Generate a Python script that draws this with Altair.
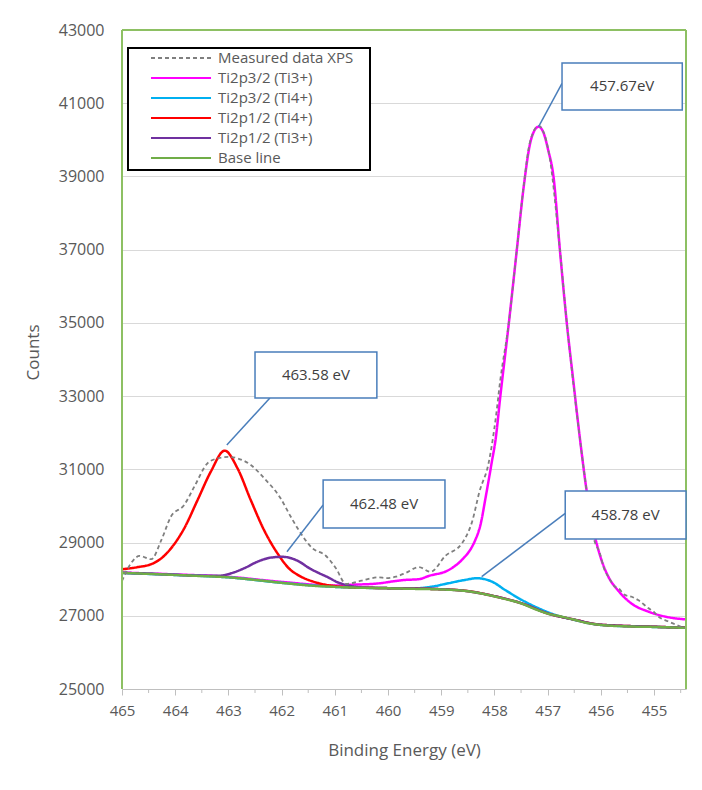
import altair as alt
import pandas as pd

# ---- Ti 2p XPS spectrum: binding energy (eV) and counts per trace ----
meas_E = [465.0, 464.83, 464.67, 464.45, 464.26, 464.08, 463.83, 463.64, 463.39, 463.2,
          463.0, 462.83, 462.58, 462.33, 462.02, 461.83, 461.7, 461.42, 461.17, 460.98,
          460.79, 460.5, 460.17, 460.04, 459.85, 459.67, 459.42, 459.2, 458.92, 458.61,
          458.42, 458.28, 458.11, 457.98, 457.89, 457.73, 457.58, 457.45, 457.33, 457.17,
          456.99, 456.77, 456.64, 456.49, 456.27, 456.14, 456.02, 455.93, 455.86, 455.74,
          455.67, 455.55, 455.42, 455.3, 455.11, 455.0, 454.93, 454.74, 454.49, 454.4]
meas_C = [27950, 28435, 28635, 28545, 29070, 29710, 30030, 30530, 31170, 31300,
          31340, 31300, 31120, 30760, 30210, 29710, 29390, 28845, 28640, 28300,
          27870, 27960, 28050, 28030, 28070, 28170, 28330, 28200, 28640, 28980,
          29570, 30400, 31170, 32350, 33440, 35000, 37000, 38750, 39950, 40380,
          39750, 37000, 35000, 33000, 30450, 29160, 28710, 28250, 28070, 27800,
          27750, 27570, 27520, 27430, 27210, 27100, 26990, 26850, 26700, 26660]

ti3_p32_E = [465.0, 464.0, 463.0, 462.0, 461.0, 460.67, 460.29, 459.67, 459.42, 459.23,
             458.86, 458.61, 458.42, 458.36, 458.26, 458.17, 458.05, 457.98, 457.89, 457.73,
             457.58, 457.45, 457.33, 457.25, 457.17, 457.08, 456.99, 456.89, 456.77, 456.64,
             456.52, 456.39, 456.27, 456.11, 455.99, 455.86, 455.67, 455.42, 455.11, 454.8, 454.4]
ti3_p32_C = [28180, 28130, 28065, 27925, 27825, 27850, 27870, 27980, 28000, 28090,
             28250, 28530, 28890, 29070, 29500, 30200, 31200, 31800, 32990, 34990,
             36990, 38720, 39900, 40250, 40360, 40200, 39720, 38990, 36990, 34990,
             33440, 31800, 30440, 29160, 28530, 28070, 27680, 27330, 27115, 26980, 26900]

ti4_p32_E = [465.0, 464.0, 463.0, 462.0, 461.0, 460.0, 459.5, 459.2, 458.86, 458.55,
             458.33, 458.05, 457.8, 457.49, 457.17, 456.86, 456.5, 456.0, 455.0, 454.4]
ti4_p32_C = [28170, 28115, 28050, 27900, 27790, 27755, 27750, 27790, 27890, 27980,
             28025, 27935, 27705, 27435, 27205, 27025, 26890, 26750, 26695, 26670]

ti4_p12_E = [465.0, 464.7, 464.45, 464.26, 464.08, 463.83, 463.58, 463.33, 463.07, 462.83,
             462.58, 462.33, 462.08, 461.83, 461.7, 461.3, 461.0, 460.7, 460.0, 459.0,
             458.5, 458.0, 457.5, 457.0, 456.5, 456.0, 455.0, 454.4]
ti4_p12_C = [28270, 28330, 28410, 28570, 28840, 29390, 30160, 30940, 31510, 31030,
             30160, 29340, 28710, 28250, 28120, 27890, 27810, 27780, 27755, 27725,
             27675, 27535, 27345, 27065, 26895, 26755, 26700, 26675]

ti3_p12_E = [465.0, 464.0, 463.5, 463.2, 462.95, 462.7, 462.45, 462.2, 461.98, 461.67,
             461.48, 461.29, 461.1, 460.98, 460.79, 460.5, 460.0, 459.0, 458.5, 458.0,
             457.5, 457.0, 456.5, 456.0, 455.0, 454.4]
ti3_p12_C = [28175, 28120, 28090, 28090, 28160, 28300, 28480, 28590, 28610, 28480,
             28300, 28160, 28030, 27935, 27845, 27775, 27755, 27725, 27670, 27535,
             27345, 27065, 26895, 26755, 26700, 26675]

base_E = [465.0, 464.5, 464.0, 463.5, 463.0, 462.5, 462.0, 461.5, 461.0, 460.5,
          460.0, 459.5, 459.0, 458.5, 458.0, 457.75, 457.5, 457.25, 457.0, 456.75,
          456.5, 456.25, 456.0, 455.5, 455.0, 454.4]
base_C = [28170, 28145, 28115, 28085, 28050, 27980, 27900, 27830, 27790, 27765,
          27750, 27735, 27720, 27670, 27530, 27440, 27340, 27190, 27060, 26980,
          26890, 26800, 26750, 26710, 26695, 26670]

series_names = ["Measured data XPS", "Ti2p3/2 (Ti3+)", "Ti2p3/2 (Ti4+)",
                "Ti2p1/2 (Ti4+)", "Ti2p1/2 (Ti3+)", "Base line"]
series_colors = ["#7F7F7F", "#FF00FF", "#00B0F0", "#FF0000", "#7030A0", "#70AD47"]
series_dash = [[4, 3], [1, 0], [1, 0], [1, 0], [1, 0], [1, 0]]
series_width = [1.8, 2.5, 2.5, 2.5, 2.5, 2.5]

# peak call-outs: label, leader line (peak -> box) and box extent in data units
call_text = ["457.67eV", "463.58 eV", "462.48 eV", "458.78 eV"]
lead_from_E = [457.17, 463.03, 461.90, 458.24]
lead_from_C = [40360, 31665, 28750, 28068]
lead_to_E = [456.73, 462.22, 461.22, 456.67]
lead_to_C = [41540, 32948, 30026, 29799]
box_left_E = [456.73, 462.50, 461.22, 456.67]
box_right_E = [454.47, 460.21, 458.93, 454.40]
box_top_C = [42099, 34205, 30709, 30408]
box_bottom_C = [40815, 32948, 29398, 29097]

x_major = [465, 464, 463, 462, 461, 460, 459, 458, 457, 456, 455]
x_minor = [464.5, 463.5, 462.5, 461.5, 460.5, 459.5, 458.5, 457.5, 456.5, 455.5, 454.5]
y_ticks = list(range(25000, 43001, 2000))

# ---- tables ----
traces = {
    "Measured data XPS": (meas_E, meas_C),
    "Ti2p3/2 (Ti3+)": (ti3_p32_E, ti3_p32_C),
    "Ti2p3/2 (Ti4+)": (ti4_p32_E, ti4_p32_C),
    "Ti2p1/2 (Ti4+)": (ti4_p12_E, ti4_p12_C),
    "Ti2p1/2 (Ti3+)": (ti3_p12_E, ti3_p12_C),
    "Base line": (base_E, base_C),
}
rows = []
for name, (es, cs) in traces.items():
    for e, c in zip(es, cs, strict=True):
        rows.append({"series": name, "E": e, "C": c})
spectra = pd.DataFrame(rows)

callouts = pd.DataFrame({
    "text": call_text,
    "E0": lead_from_E, "C0": lead_from_C,
    "E1": lead_to_E, "C1": lead_to_C,
    "bl": box_left_E, "br": box_right_E,
    "bt": box_top_C, "bb": box_bottom_C,
})
callouts["tE"] = (callouts["bl"] + callouts["br"]) / 2
callouts["tC"] = (callouts["bt"] + callouts["bb"]) / 2

minor_df = pd.DataFrame({"E": x_minor})

FONT = "Open Sans"
GREEN = "#8DC063"
AXIS_GREY = "#BFBFBF"
W, H = 564, 659

x_scale = alt.Scale(domain=[454.4, 465], reverse=True, nice=False, zero=False)
y_scale = alt.Scale(domain=[25000, 43000], nice=False, zero=False)

x_axis = alt.Axis(
    values=x_major, format="d", labelOverlap=False, labelFlush=False,
    grid=False, domainColor=AXIS_GREY, tickColor=AXIS_GREY, tickSize=6,
    labelPadding=8, labelFont=FONT, labelFontSize=15, labelColor="#595959",
    titleFont=FONT, titleFontSize=17, titleFontWeight="normal", titleColor="#595959",
    titleY=61, titleBaseline="middle",
)
y_axis = alt.Axis(
    values=y_ticks, format="d", labelFlush=False,
    grid=True, gridColor="#D9D9D9", gridWidth=1,
    domain=False, ticks=False, tickSize=0, labelPadding=18,
    labelFont=FONT, labelFontSize=16, labelColor="#595959",
    titleFont=FONT, titleFontSize=17, titleFontWeight="normal", titleColor="#595959",
    titleX=-89, titleY=322, titleAlign="center", titleBaseline="middle", titleAngle=-90,
)

legend = alt.Legend(
    orient="none", legendX=25, legendY=17, direction="vertical",
    symbolType="stroke", symbolSize=3600, symbolStrokeWidth=2,
    clipHeight=16, rowPadding=4, labelOffset=6, padding=3,
    labelFont=FONT, labelFontSize=15, labelColor="#595959", labelLimit=400,
)

base = alt.Chart(spectra).encode(
    x=alt.X("E:Q", scale=x_scale, axis=x_axis, title="Binding Energy (eV)"),
    y=alt.Y("C:Q", scale=y_scale, axis=y_axis, title="Counts"),
    color=alt.Color("series:N", scale=alt.Scale(domain=series_names, range=series_colors),
                    legend=legend, title=None),
    strokeDash=alt.StrokeDash("series:N", scale=alt.Scale(domain=series_names, range=series_dash),
                              legend=legend, title=None),
)

one = pd.DataFrame({"k": [0]})

# white legend frame with black border
legend_frame = alt.Chart(one).mark_rect(fill="white", stroke="black", strokeWidth=2).encode(
    x=alt.value(6), x2=alt.value(248), y=alt.value(18), y2=alt.value(140)
)

# draw order: fitted components, base line, measured data on top
draw_order = ["Ti2p3/2 (Ti3+)", "Ti2p3/2 (Ti4+)", "Ti2p1/2 (Ti4+)",
              "Ti2p1/2 (Ti3+)", "Base line", "Measured data XPS"]
line_layers = []
for name in draw_order:
    sw = series_width[series_names.index(name)]
    line_layers.append(
        base.transform_filter(alt.datum.series == name)
        .mark_line(strokeWidth=sw, interpolate="monotone")
    )

# minor ticks on the energy axis, half-eV steps
minor_ticks = alt.Chart(minor_df).mark_rule(color=AXIS_GREY, strokeWidth=1).encode(
    x=alt.X("E:Q", scale=x_scale), y=alt.value(H), y2=alt.value(H + 4)
)

# green plot frame (left, right, top)
frame_left = alt.Chart(one).mark_rule(color=GREEN, strokeWidth=2).encode(
    x=alt.value(0), y=alt.value(0), y2=alt.value(H))
frame_right = alt.Chart(one).mark_rule(color=GREEN, strokeWidth=2).encode(
    x=alt.value(W), y=alt.value(0), y2=alt.value(H))
frame_top = alt.Chart(one).mark_rule(color=GREEN, strokeWidth=2).encode(
    x=alt.value(0), x2=alt.value(W), y=alt.value(0))

LEAD = "#4A7EBB"
leaders = alt.Chart(callouts).mark_rule(color=LEAD, strokeWidth=1.5).encode(
    x=alt.X("E0:Q", scale=x_scale), y=alt.Y("C0:Q", scale=y_scale),
    x2="E1:Q", y2="C1:Q",
)
boxes = alt.Chart(callouts).mark_rect(fill="white", stroke=LEAD, strokeWidth=1.5).encode(
    x=alt.X("bl:Q", scale=x_scale), x2="br:Q",
    y=alt.Y("bt:Q", scale=y_scale), y2="bb:Q",
)
labels = alt.Chart(callouts).mark_text(
    font=FONT, fontSize=15, color="#404040", align="center", baseline="middle"
).encode(
    x=alt.X("tE:Q", scale=x_scale), y=alt.Y("tC:Q", scale=y_scale), text="text:N"
)

chart = alt.layer(
    *line_layers, legend_frame, minor_ticks, frame_left, frame_right, frame_top,
    leaders, boxes, labels
).properties(
    width=W, height=H,
    autosize=alt.AutoSizeParams(type="none"),
    padding={"left": 122, "top": 30, "right": 16, "bottom": 101},
    background="white",
).configure_view(stroke=None)

chart.save("out.html", embed_options={"renderer": "svg", "actions": False})
